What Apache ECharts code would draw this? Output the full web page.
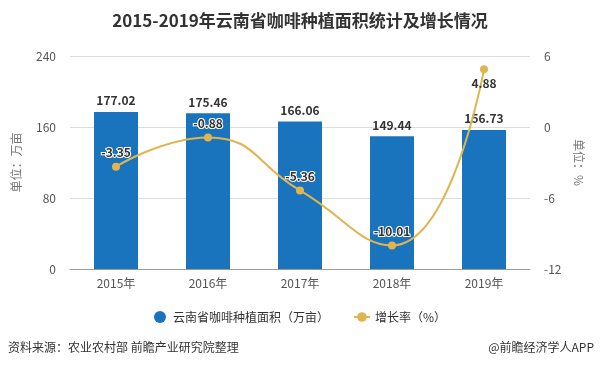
<!DOCTYPE html>
<html><head><meta charset="utf-8">
<script src="https://cdn.jsdelivr.net/npm/echarts@6/dist/echarts.min.js"></script>
<style>html,body{margin:0;padding:0;background:#fff}#c{width:600px;height:370px}</style>
</head><body><div id="c"></div>
<script>
const categories = ['2015年','2016年','2017年','2018年','2019年'];
const areaValues = [177.02, 175.46, 166.06, 149.44, 156.73];
const growthValues = [-3.35, -0.88, -5.36, -10.01, 4.88];
const leftTicks = [0, 80, 160, 240];
const rightTicks = [-12, -6, 0, 6];
const font = '"Microsoft YaHei","Noto Sans CJK SC",sans-serif';

const chart = echarts.init(document.getElementById('c'));
chart.setOption({
  animation: false,
  textStyle: { fontFamily: font },
  title: {
    text: '2015-2019年云南省咖啡种植面积统计及增长情况',
    left: 'center', top: 7,
    textStyle: { fontSize: 17, fontWeight: 'bold', color: '#333', fontFamily: font }
  },
  grid: { left: 70, right: 70, top: 56, bottom: 101 },
  legend: {
    bottom: 42, left: 'center', itemGap: 24, itemWidth: 16, itemHeight: 12,
    textStyle: { color: '#333', fontSize: 12 },
    data: [
      { name: '云南省咖啡种植面积（万亩）', icon: 'circle' },
      { name: '增长率（%）' }
    ]
  },
  xAxis: {
    type: 'category', data: categories,
    axisLine: { lineStyle: { color: '#999' } },
    axisTick: { alignWithLabel: true, lineStyle: { color: '#999' } },
    axisLabel: { color: '#555', fontSize: 12, margin: 8 }
  },
  yAxis: [
    {
      type: 'value', min: leftTicks[0], max: leftTicks[leftTicks.length - 1], interval: 80,
      name: '单位：万亩', nameLocation: 'middle', nameGap: 48, nameRotate: 90,
      nameTextStyle: { color: '#777', fontSize: 12 },
      axisLine: { show: false }, axisTick: { show: false },
      axisLabel: { color: '#555', fontSize: 12, margin: 14 },
      splitLine: { lineStyle: { color: '#ddd' } }
    },
    {
      type: 'value', min: rightTicks[0], max: rightTicks[rightTicks.length - 1], interval: 6,
      name: '单位：%', nameLocation: 'middle', nameGap: 36, nameRotate: -90,
      nameTextStyle: { color: '#777', fontSize: 12 },
      axisLine: { show: false }, axisTick: { show: false },
      axisLabel: { color: '#555', fontSize: 12, margin: 14 },
      splitLine: { show: false }
    }
  ],
  series: [
    {
      name: '云南省咖啡种植面积（万亩）', type: 'bar', data: areaValues, barWidth: 44,
      itemStyle: { color: '#1a74bd' },
      label: { show: true, position: 'top', color: '#333', fontWeight: 'bold', fontSize: 12, distance: 5,
        formatter: p => p.value.toFixed(2) }
    },
    {
      name: '增长率（%）', type: 'line', yAxisIndex: 1, smooth: true,
      symbol: 'circle', symbolSize: 8,
      lineStyle: { color: '#e0b54f', width: 2 },
      itemStyle: { color: '#e0b54f' },
      label: { show: true, position: 'top', color: '#333', fontWeight: 'bold', fontSize: 12,
        textBorderColor: '#fff', textBorderWidth: 2, distance: 4,
        formatter: p => p.value.toFixed(2) },
      data: growthValues.map((v, i) => i === 4 ? { value: v, label: { position: 'bottom', textBorderWidth: 0 } } : v)
    }
  ],
  graphic: [
    { type: 'text', left: 8, top: 341, style: { text: '资料来源：农业农村部 前瞻产业研究院整理', fill: '#333', fontSize: 12, fontFamily: font } },
    { type: 'text', right: 6, top: 341, style: { text: '@前瞻经济学人APP', fill: '#333', fontSize: 12, fontFamily: font } }
  ]
});
</script></body></html>
